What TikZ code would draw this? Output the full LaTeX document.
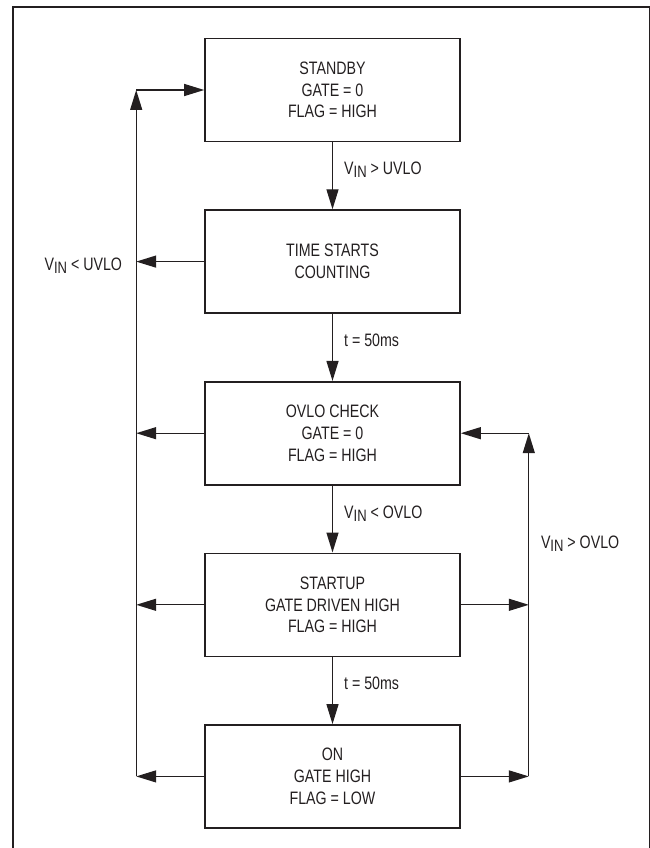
\documentclass[tikz,border=0pt]{standalone}
\usepackage{fontspec}
\setmainfont{Liberation Sans}[FakeStretch=0.79]
\usetikzlibrary{positioning,chains,calc,arrows.meta}
\definecolor{myink}{RGB}{35,31,32}
\newcommand{\vin}{V\raisebox{-3pt}{\fontsize{16.5}{16.5}\selectfont IN}}

\begin{document}
\begin{tikzpicture}[x=1pt,y=-1pt,
		  every node/.style={font=\fontsize{18}{21.7}\selectfont,text=myink},
		  statebox/.style={draw=myink,line width=1.6pt,minimum width=255pt,minimum height=103pt,align=center,inner sep=0pt},
		  arr/.style={draw=myink,line width=1.3pt,-{Triangle[length=20pt,width=12pt]}},
		  lbl/.style={anchor=base west,inner sep=0pt,xshift=11pt,yshift=1pt}
		]
			\useasboundingbox (0,0) rectangle (649,848);

			% the frame
			\draw[myink,line width=2pt] (13,860) -- (13,7.5) -- (649.5,7.5) -- (649.5,860);

			% the states
			\begin{scope}[start chain=going below,node distance=67pt]
			  \node[statebox,on chain] (standby) at (332.5,90) {STANDBY\\GATE = 0\\FLAG = HIGH};
			  \node[statebox,on chain] (counting) {TIME STARTS\\COUNTING};
			  \node[statebox,on chain] (ovlo) {OVLO CHECK\\GATE = 0\\FLAG = HIGH};
			  \node[statebox,on chain] (startup) {STARTUP\\GATE DRIVEN HIGH\\FLAG = HIGH};
			  \node[statebox,on chain] (on) {ON\\GATE HIGH\\FLAG = LOW};
			\end{scope}

			% the forward steps
			\draw[arr] (standby) -- node[lbl] {\vin{} > UVLO} (counting);
			\draw[arr] (counting) -- node[lbl] {t = 50ms} (ovlo);
			\draw[arr] (ovlo) -- node[lbl] {\vin{} < OVLO} (startup);
			\draw[arr] (startup) -- node[lbl] {t = 50ms} (on);

			% the way back to standby
			\coordinate[left=68pt of standby.west] (ltop);
			\foreach \s in {counting,ovlo,startup,on}
			  \draw[arr] (\s.west) -- (\s.west -| ltop);
			\draw[arr] (ltop |- on.west) -- (ltop);
			\draw[arr] (ltop) -- (standby.west);
			\node[anchor=base east,inner sep=0pt] (uvlolow) at ($(counting.west -| ltop)+(-14,9)$) {\vin{} < UVLO};

			% the way back to the ovlo check
			\coordinate[right=68pt of ovlo.east] (rtop);
			\foreach \s in {startup,on}
			  \draw[arr] (\s.east) -- (\s.east -| rtop);
			\draw[arr] (rtop |- on.east) -- (rtop);
			\draw[arr] (rtop) -- (ovlo.east);
			\node[anchor=base west,inner sep=0pt] (ovlohigh) at ($(rtop)+(12,115)$) {\vin{} > OVLO};

		\end{tikzpicture}
\end{document}
